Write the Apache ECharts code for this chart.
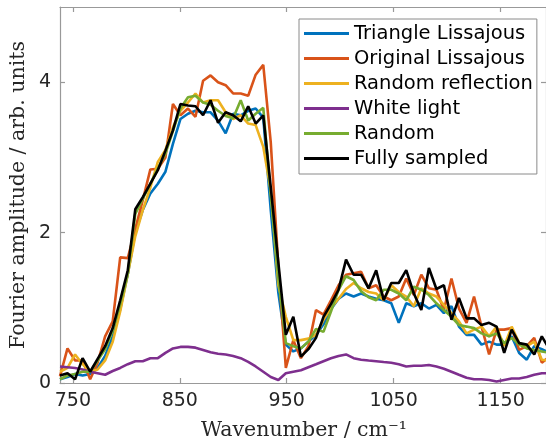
<!DOCTYPE html>
<html>
<head>
<meta charset="utf-8">
<script src="https://cdn.jsdelivr.net/npm/echarts@6.0.0/dist/echarts.min.js"></script>
<style>
  html, body { margin: 0; padding: 0; background: #fff; }
  #chart { width: 546px; height: 445px; }
</style>
</head>
<body>
<div id="chart"></div>
<script>
// wavenumber grid (cm^-1)
var wavenumber = [738.0, 745.0, 752.1, 759.1, 766.2, 773.2, 780.2, 787.3, 794.3, 801.4,
  808.4, 815.4, 822.5, 829.5, 836.6, 843.6, 850.6, 857.7, 864.7, 871.8,
  878.8, 885.8, 892.9, 899.9, 907.0, 914.0, 921.0, 928.1, 935.1, 942.2,
  949.2, 956.2, 963.3, 970.3, 977.4, 984.4, 991.4, 998.5, 1005.5, 1012.6,
  1019.6, 1026.6, 1033.7, 1040.7, 1047.8, 1054.8, 1061.8, 1068.9, 1075.9, 1083.0,
  1090.0, 1097.0, 1104.1, 1111.1, 1118.2, 1125.2, 1132.2, 1139.3, 1146.3, 1153.4,
  1160.4, 1167.4, 1174.5, 1181.5, 1188.6, 1195.6];

var triangleLissajous = [0.05, 0.08, 0.12, 0.10, 0.12, 0.20, 0.36, 0.62, 0.98, 1.45,
  2.00, 2.30, 2.52, 2.65, 2.81, 3.18, 3.51, 3.58, 3.62, 3.60,
  3.60, 3.49, 3.32, 3.58, 3.56, 3.62, 3.65, 3.53, 2.30, 1.20,
  0.51, 0.42, 0.46, 0.55, 0.64, 0.78, 0.98, 1.12, 1.19, 1.15,
  1.19, 1.15, 1.12, 1.10, 1.06, 0.80, 1.06, 1.02, 1.06, 0.99,
  1.04, 0.93, 1.02, 0.75, 0.64, 0.64, 0.51, 0.55, 0.51, 0.51,
  0.62, 0.40, 0.31, 0.49, 0.45, 0.40];

var originalLissajous = [0.09, 0.46, 0.30, 0.30, 0.05, 0.27, 0.62, 0.82, 1.67, 1.66,
  2.05, 2.43, 2.84, 2.85, 3.00, 3.71, 3.56, 3.65, 3.54, 4.02,
  4.09, 4.00, 3.96, 3.85, 3.85, 3.82, 4.10, 4.23, 3.20, 1.55,
  0.20, 0.57, 0.33, 0.49, 0.97, 0.91, 1.10, 1.30, 1.44, 1.46,
  1.48, 1.26, 1.30, 1.15, 1.10, 1.15, 1.39, 1.17, 1.44, 1.26,
  1.24, 0.97, 1.39, 0.99, 0.80, 1.15, 0.75, 0.38, 0.71, 0.71,
  0.73, 0.44, 0.49, 0.60, 0.27, 0.35];

var randomReflection = [0.15, 0.20, 0.38, 0.25, 0.15, 0.18, 0.30, 0.55, 0.95, 1.45,
  1.95, 2.30, 2.60, 2.94, 3.10, 3.40, 3.62, 3.73, 3.85, 3.73,
  3.76, 3.76, 3.60, 3.51, 3.56, 3.45, 3.43, 3.14, 2.56, 1.30,
  0.88, 0.57, 0.57, 0.59, 0.64, 0.84, 1.00, 1.12, 1.25, 1.33,
  1.26, 1.21, 1.19, 1.10, 1.30, 1.21, 1.15, 1.02, 1.26, 1.19,
  1.15, 1.04, 0.93, 0.82, 0.66, 0.71, 0.75, 0.62, 0.75, 0.49,
  0.75, 0.53, 0.49, 0.55, 0.31, 0.30];

var whiteLight = [0.22, 0.21, 0.20, 0.18, 0.15, 0.13, 0.11, 0.16, 0.20, 0.25,
  0.29, 0.29, 0.33, 0.33, 0.40, 0.46, 0.48, 0.48, 0.47, 0.44,
  0.41, 0.39, 0.38, 0.36, 0.33, 0.28, 0.22, 0.15, 0.08, 0.04,
  0.13, 0.15, 0.17, 0.21, 0.25, 0.29, 0.33, 0.36, 0.38, 0.33,
  0.31, 0.30, 0.29, 0.28, 0.27, 0.25, 0.22, 0.23, 0.23, 0.24,
  0.22, 0.19, 0.15, 0.11, 0.07, 0.05, 0.05, 0.04, 0.02, 0.04,
  0.06, 0.06, 0.08, 0.11, 0.13, 0.13];

var randomSampling = [0.05, 0.10, 0.12, 0.15, 0.15, 0.30, 0.45, 0.70, 1.05, 1.45,
  2.25, 2.45, 2.65, 2.85, 3.05, 3.35, 3.65, 3.80, 3.82, 3.73,
  3.70, 3.62, 3.55, 3.52, 3.76, 3.49, 3.58, 3.66, 2.50, 1.40,
  0.53, 0.49, 0.46, 0.55, 0.72, 0.68, 0.95, 1.24, 1.42, 1.37,
  1.22, 1.14, 1.10, 1.24, 1.24, 1.19, 1.10, 1.28, 1.24, 1.17,
  1.06, 0.97, 0.88, 0.77, 0.75, 0.73, 0.66, 0.62, 0.66, 0.53,
  0.60, 0.51, 0.46, 0.44, 0.42, 0.40];

var fullySampled = [0.10, 0.13, 0.05, 0.33, 0.15, 0.32, 0.49, 0.73, 1.10, 1.50,
  2.31, 2.47, 2.65, 2.83, 3.09, 3.36, 3.71, 3.69, 3.68, 3.56,
  3.76, 3.46, 3.60, 3.56, 3.48, 3.68, 3.45, 3.56, 2.60, 1.60,
  0.64, 0.88, 0.35, 0.45, 0.60, 0.88, 1.05, 1.24, 1.64, 1.44,
  1.44, 1.26, 1.50, 1.10, 1.33, 1.33, 1.50, 1.19, 0.97, 1.53,
  1.25, 1.30, 0.84, 1.13, 0.86, 0.86, 0.77, 0.80, 0.75, 0.40,
  0.71, 0.53, 0.51, 0.38, 0.62, 0.45];

var xTicks = [750, 850, 950, 1050, 1150];
var yTicks = [0, 2, 4];

var seriesNames = ['Triangle Lissajous', 'Original Lissajous', 'Random reflection',
  'White light', 'Random', 'Fully sampled'];
var seriesData = [triangleLissajous, originalLissajous, randomReflection,
  whiteLight, randomSampling, fullySampled];
var colors = ['#0072BD', '#D95319', '#EDB120', '#7E2F8E', '#77AC30', '#000000'];

var axisColor = '#999999';

function pairs(ys) {
  return ys.map(function (y, i) { return [wavenumber[i], y]; });
}

var myChart = echarts.init(document.getElementById('chart'));

var series = seriesNames.map(function (name, k) {
  return {
    name: name,
    type: 'line',
    data: pairs(seriesData[k]),
    showSymbol: false,
    symbol: 'none',
    clip: true,
    lineStyle: { color: colors[k], width: 2.6 },
    itemStyle: { color: colors[k] },
    emphasis: { disabled: true }
  };
});

// plain numbers, no thousands separator
function plain(v) { return String(v); }

function xAxisCfg(pos, showLabel) {
  return {
    type: 'value',
    position: pos,
    min: 738,
    max: 1192.5,
    axisLine: { show: true, onZero: false, lineStyle: { color: axisColor, width: 1.2 } },
    axisTick: { show: true, inside: true, length: 5, customValues: xTicks,
      lineStyle: { color: axisColor, width: 1.2 } },
    axisLabel: { show: showLabel, customValues: xTicks, formatter: plain, margin: 9,
      fontSize: 19, fontFamily: 'DejaVu Sans', color: '#262626' },
    splitLine: { show: false }
  };
}

function yAxisCfg(pos, showLabel) {
  return {
    type: 'value',
    position: pos,
    min: 0,
    max: 5,
    axisLine: { show: true, onZero: false, lineStyle: { color: axisColor, width: 1.2 } },
    axisTick: { show: true, inside: true, length: 5, customValues: yTicks,
      lineStyle: { color: axisColor, width: 1.2 } },
    axisLabel: { show: showLabel, customValues: yTicks, formatter: plain, margin: 9,
      fontSize: 19, fontFamily: 'DejaVu Sans', color: '#262626' },
    splitLine: { show: false }
  };
}

var option = {
  animation: false,
  backgroundColor: '#ffffff',
  grid: { left: 60, right: -1, top: 7, bottom: 62, containLabel: false },
  xAxis: [xAxisCfg('bottom', true), xAxisCfg('top', false)],
  yAxis: [yAxisCfg('left', true), yAxisCfg('right', false)],
  legend: {
    data: seriesNames,
    orient: 'vertical',
    left: 299,
    top: 19,
    padding: [2, 4, 3, 5],
    itemGap: 0,
    itemWidth: 45,
    itemHeight: 3,
    icon: 'rect',
    backgroundColor: '#ffffff',
    borderColor: '#8a8a8a',
    borderWidth: 1,
    borderRadius: 0,
    selectedMode: false,
    textStyle: { fontSize: 19.5, fontFamily: 'DejaVu Sans', color: '#000', lineHeight: 25 }
  },
  graphic: [
    {
      type: 'text',
      x: 19,
      y: 195,
      rotation: Math.PI / 2,
      style: {
        text: 'Fourier amplitude / arb. units',
        font: '20.5px "DejaVu Serif"',
        fill: '#262626',
        align: 'center', verticalAlign: 'middle',
        textAlign: 'center', textVerticalAlign: 'middle'
      }
    },
    {
      type: 'text',
      x: 304,
      y: 431,
      style: {
        text: 'Wavenumber / cm\u207B\u00B9',
        font: '20.5px "DejaVu Serif"',
        fill: '#262626',
        align: 'center', verticalAlign: 'middle',
        textAlign: 'center', textVerticalAlign: 'middle'
      }
    }
  ],
  series: series
};

myChart.setOption(option);
</script>
</body>
</html>
